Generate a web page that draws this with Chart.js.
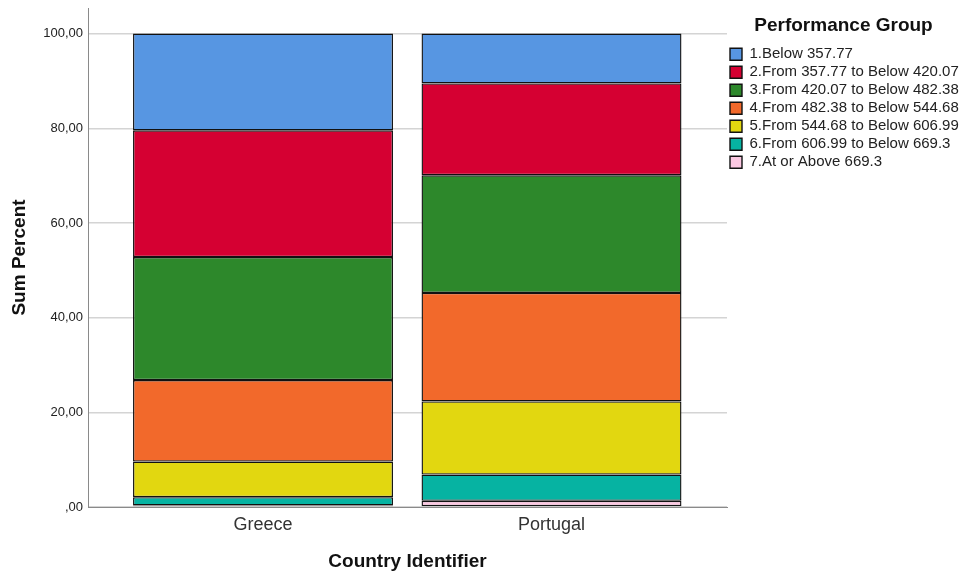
<!DOCTYPE html>
<html>
<head>
<meta charset="utf-8">
<title>Performance Group by Country</title>
<script src="https://cdn.jsdelivr.net/npm/chart.js@4.4.1/dist/chart.umd.min.js"></script>
<style>
  html, body { margin: 0; padding: 0; background: #ffffff; }
  #wrap { width: 960px; height: 574px; position: relative; }
</style>
</head>
<body>
<div id="wrap"><canvas id="chart"></canvas></div>
<script>
// Countries on the x axis
const countries = ['Greece', 'Portugal'];

// Performance groups (legend order, top of the stack first)
const groups = [
  '1.Below 357.77',
  '2.From 357.77 to Below 420.07',
  '3.From 420.07 to Below 482.38',
  '4.From 482.38 to Below 544.68',
  '5.From 544.68 to Below 606.99',
  '6.From 606.99 to Below 669.3',
  '7.At or Above 669.3'
];

// Percent of students in each group, per country
const greece   = [20.44, 26.77, 25.98, 17.22, 7.52, 1.75, 0.32];
const portugal = [10.54, 19.39, 24.86, 22.91, 15.45, 5.54, 1.31];

// Y axis ticks
const yTicks = [0, 20, 40, 60, 80, 100];

const groupColors = ['#5796E2', '#D50032', '#2D882B', '#F2692B', '#E2D710', '#06B3A2', '#FCC8E2'];

const FONT = "'Liberation Sans', Arial, Helvetica, sans-serif";

const seriesByCountry = [greece, portugal];

// Group 7 sits at the bottom of each stack, so datasets go from 7 up to 1
const datasets = groups.map((name, g) => ({
  label: name,
  data: countries.map((c, i) => ({ x: i + 1, y: seriesByCountry[i][g] })),
  backgroundColor: groupColors[g],
  borderColor: '#111111',
  borderWidth: 1.4,
  borderSkipped: false,
  inflateAmount: 0,
  barPercentage: 0.901,
  categoryPercentage: 1.0
})).reverse();

const fmtComma = v => {
  const s = Number(v).toFixed(2).replace('.', ',');
  return s.startsWith('0,') ? s.slice(1) : s;
};

new Chart(document.getElementById('chart'), {
  type: 'bar',
  data: { datasets },
  options: {
    responsive: true,
    maintainAspectRatio: false,
    animation: false,
    layout: { padding: { top: 8, right: 0, bottom: 0, left: 0 } },
    plugins: {
      tooltip: { enabled: false },
      legend: {
        position: 'right',
        align: 'start',
        reverse: true,
        maxWidth: 233,
        title: {
          display: true,
          text: 'Performance Group',
          color: '#111',
          font: { family: FONT, size: 19, weight: 'bold' },
          padding: { top: 8, bottom: 5 }
        },
        labels: {
          color: '#222',
          font: { family: FONT, size: 15 },
          boxWidth: 12,
          boxHeight: 12,
          padding: 3
        }
      }
    },
    scales: {
      x: {
        type: 'linear',
        stacked: true,
        offset: false,
        min: 0.3934,
        max: 2.6083,
        afterBuildTicks: scale => {
          scale.ticks = countries.map((c, i) => ({ value: i + 1 }));
        },
        afterFit: scale => {
          scale.height = 67;
          scale.paddingLeft = 0;
          scale.paddingRight = 0;
        },
        grid: { display: false, drawTicks: false, offset: false },
        border: { display: true, color: '#8a8a8a', width: 1 },
        ticks: {
          autoSkip: false,
          maxRotation: 0,
          padding: 7,
          color: '#333',
          font: { family: FONT, size: 18 },
          callback: v => countries[Math.round(v) - 1] ?? ''
        },
        title: {
          display: true,
          text: 'Country Identifier',
          color: '#111',
          font: { family: FONT, size: 19, weight: 'bold' },
          padding: { top: 0, bottom: 1 }
        }
      },
      y: {
        stacked: true,
        min: 0,
        max: 105.4,
        afterBuildTicks: scale => {
          scale.ticks = yTicks.map(v => ({ value: v }));
        },
        afterFit: scale => {
          scale.width = 88;
          scale.paddingTop = 0;
          scale.paddingBottom = 0;
        },
        grid: { color: '#d4d4d4', lineWidth: 1.5, drawTicks: false },
        border: { display: true, color: '#8a8a8a', width: 1 },
        ticks: {
          padding: 5,
          color: '#222',
          font: { family: FONT, size: 13 },
          callback: v => fmtComma(v)
        },
        title: {
          display: true,
          text: 'Sum Percent',
          color: '#111',
          font: { family: FONT, size: 19, weight: 'bold' },
          padding: { top: 8, bottom: 0 }
        }
      }
    }
  }
});
</script>
</body>
</html>
